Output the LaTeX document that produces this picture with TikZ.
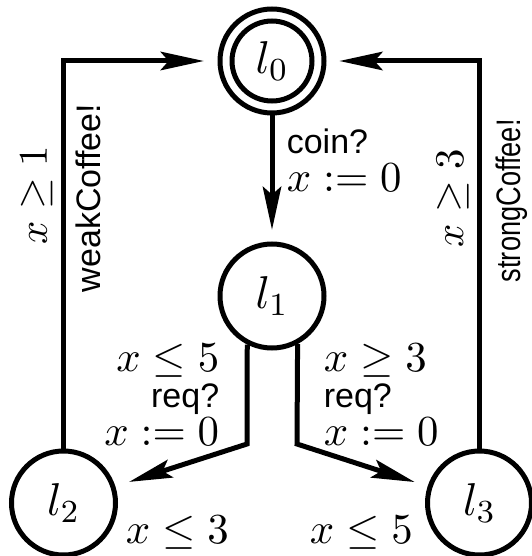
\RequirePackage{fix-cm}
\documentclass[tikz,border=0pt]{standalone}
\usepackage{fontspec}
\setsansfont{Liberation Sans}
\usetikzlibrary{arrows.meta}
\begin{document}
\begin{tikzpicture}[x=0.25pt, y=-0.25pt]
\tikzset{
  loc/.style={circle, draw, line width=1.25pt, minimum size=26pt, inner sep=0pt, font=\fontsize{11.5}{14}\selectfont},
  arr/.style={line width=1.25pt, -{Stealth[length=10.8pt, width=4.6pt, inset=2pt]}},
  lab/.style={inner sep=0pt, font=\fontsize{10.7}{13}\selectfont},
  rlab/.style={inner sep=0pt, rotate=90, font=\fontsize{10.2}{12}\selectfont},
  sf/.style={inner sep=0pt, font=\fontsize{8.5}{10}\selectfont\sffamily},
}
\useasboundingbox (0,0) rectangle (532,556);

\node[loc] (l0) at (272,61) {$l_0$};
\draw[line width=1.25pt] (l0.center) circle[radius=10pt];
\node[loc] (l1) at (272,296) {$l_1$};
\node[loc] (l2) at (63.5,503) {$l_2$};
\node[loc] (l3) at (479.5,503) {$l_3$};

\coordinate (cl) at (247,444);
\coordinate (cr) at (297,444);

\draw[arr, shorten >=2.9pt] (l0.south) -- (l1.north);
\draw[arr, shorten >=3.4pt] (l2.north) |- (l0.west);
\draw[arr, shorten >=3.2pt] (l3.north) |- (l0.east);
\draw[arr, shorten >=3.6pt] (l1.-117.3) -- (cl) -- (l2);
\draw[arr, shorten >=3.4pt] (l1.-62.7) -- (cr) -- (l3);

\node[sf, anchor=base west] (coin) at (286,153) {coin?};
\node[lab, anchor=base west] (r0) at (286,192) {$x := 0$};

\node[lab, anchor=base east] (g2) at (220,371) {$x \le 5$};
\node[sf, anchor=base east] (s2) at (220,407) {req?};
\node[lab, anchor=base east] (a2) at (220,445) {$x := 0$};

\node[lab, anchor=base west] (g3) at (323,371) {$x \ge 3$};
\node[sf, anchor=base west] (s3) at (323,407) {req?};
\node[lab, anchor=base west] (a3) at (323,445) {$x := 0$};

\node[lab, anchor=base west] (i2) at (125,543) {$x \le 3$};
\node[lab, anchor=base west] (i3) at (309,543) {$x \le 5$};

\node[rlab, anchor=base west] (g20) at (47,245) {$x \ge 1$};
\node[sf, rotate=90, anchor=base west] (s20) at (100,293) {weakCoffee!};
\node[rlab, anchor=base west] (g30) at (463,248) {$x \ge 3$};
\node[sf, rotate=90, anchor=base west] (s30) at (520,283) {\scalebox{0.8}[1]{strongCoffee!}};
\end{tikzpicture}
\end{document}
